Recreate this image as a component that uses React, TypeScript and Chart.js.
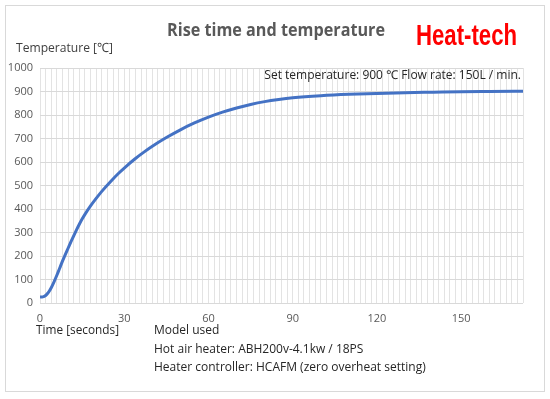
import React, { useEffect, useRef } from "react";
import { Chart, registerables } from "chart.js";

Chart.register(...registerables);

const timeSeconds = [0, 1, 2, 3, 4, 5, 6, 7, 8, 9, 10, 11, 12, 13, 14, 15, 16, 18, 20, 22, 25, 28, 31, 34, 37, 40, 45, 50, 55, 60, 65, 70, 75, 80, 85, 90, 100, 110, 120, 130, 140, 150, 160, 172];
const temperature = [25, 26, 32, 45, 65, 90, 118, 148, 178, 206, 233, 260, 286, 311, 335, 357, 377, 413, 445, 475, 515, 552, 585, 615, 642, 667, 704, 737, 766, 791, 812, 830, 845, 857, 866, 873, 882, 888, 892, 895, 897, 899, 900, 901];
const xLabelEvery = 30;
const xMax = 172;
const yMax = 1000;

const titleText = "Rise time and temperature";
const brandText = "Heat-tech";
const yAxisTitle = "Temperature [℃]";
const xAxisTitle = "Time [seconds]";
const conditionText = "Set temperature: 900 ℃ Flow rate: 150L / min.";
const noteLines = ["Model used", "Hot air heater: ABH200v-4.1kw / 18PS", "Heater controller: HCAFM (zero overheat setting)"];

const FONT = "'Open Sans', 'Noto Sans', sans-serif";

const textPlugin = {
  id: "texts",
  beforeDraw(chart: any) {
    const ctx = chart.ctx;
    ctx.save();
    ctx.fillStyle = "#ffffff";
    ctx.fillRect(0, 0, chart.width, chart.height);
    ctx.strokeStyle = "#d9d9d9";
    ctx.lineWidth = 1;
    ctx.strokeRect(5.5, 5.5, 539, 386);
    ctx.restore();
  },
  afterDraw(chart: any) {
    const ctx = chart.ctx;
    ctx.save();
    ctx.textBaseline = "middle";
    // title
    ctx.fillStyle = "#595959";
    ctx.font = `bold 17px ${FONT}`;
    ctx.textAlign = "center";
    ctx.fillText(titleText, 276, 31, 218);
    // brand
    ctx.fillStyle = "#ff0000";
    ctx.font = `bold 30px 'Liberation Sans Narrow', 'Liberation Sans', sans-serif`;
    ctx.textAlign = "left";
    ctx.fillText(brandText, 416, 37, 101);
    // y axis title
    ctx.fillStyle = "#404040";
    ctx.font = `13px ${FONT}`;
    ctx.fillText(yAxisTitle, 16, 48, 97);
    // condition
    ctx.fillStyle = "#262626";
    ctx.font = `12px ${FONT}`;
    ctx.textAlign = "right";
    ctx.fillText(conditionText, 521, 76, 264);
    // x axis title and notes
    ctx.textAlign = "left";
    ctx.fillStyle = "#262626";
    ctx.font = `12px ${FONT}`;
    ctx.fillText(xAxisTitle, 36, 331, 83);
    noteLines.forEach((line, i) => {
      ctx.fillText(line, 154, 331 + i * 18.5);
    });
    ctx.restore();
  },
};

export default function App() {
  const ref = useRef<HTMLCanvasElement>(null);
  useEffect(() => {
    const canvas = ref.current;
    if (!canvas) return;
    const chart = new Chart(canvas, {
      type: "line",
      data: {
        datasets: [
          {
            data: timeSeconds.map((t, i) => ({ x: t, y: temperature[i] })),
            borderColor: "#4472c4",
            borderWidth: 3,
            pointRadius: 0,
            cubicInterpolationMode: "monotone",
            fill: false,
          },
        ],
      },
      options: {
        responsive: false,
        animation: false,
        layout: { padding: { left: 0, right: 27, top: 68, bottom: 0 } },
        plugins: { legend: { display: false }, tooltip: { enabled: false } },
        scales: {
          x: {
            type: "linear",
            min: 0,
            max: xMax,
            afterFit: (s: any) => {
              s.height = 96;
            },
            grid: { color: "#e3e3e3", drawTicks: false, lineWidth: 1 },
            border: { display: false },
            ticks: {
              stepSize: 2,
              autoSkip: false,
              maxRotation: 0,
              padding: 9,
              color: "#595959",
              font: { family: FONT, size: 11 },
              callback: (v: any) => (Number(v) % xLabelEvery === 0 ? String(v) : ""),
            },
          },
          y: {
            min: 0,
            max: yMax,
            afterFit: (s: any) => {
              s.width = 40;
            },
            grid: { color: "#d9d9d9", drawTicks: false, lineWidth: 1 },
            border: { display: false },
            ticks: {
              stepSize: 100,
              padding: 7,
              color: "#595959",
              font: { family: FONT, size: 11 },
              callback: (v: any) => String(v),
            },
          },
        },
      },
      plugins: [textPlugin],
    });
    return () => chart.destroy();
  }, []);
  return (
    <div style={{ position: "fixed", left: 0, top: 0, width: 550, height: 399, background: "#fff" }}>
      <canvas ref={ref} width={550} height={399} style={{ width: 550, height: 399, display: "block" }} />
    </div>
  );
}
